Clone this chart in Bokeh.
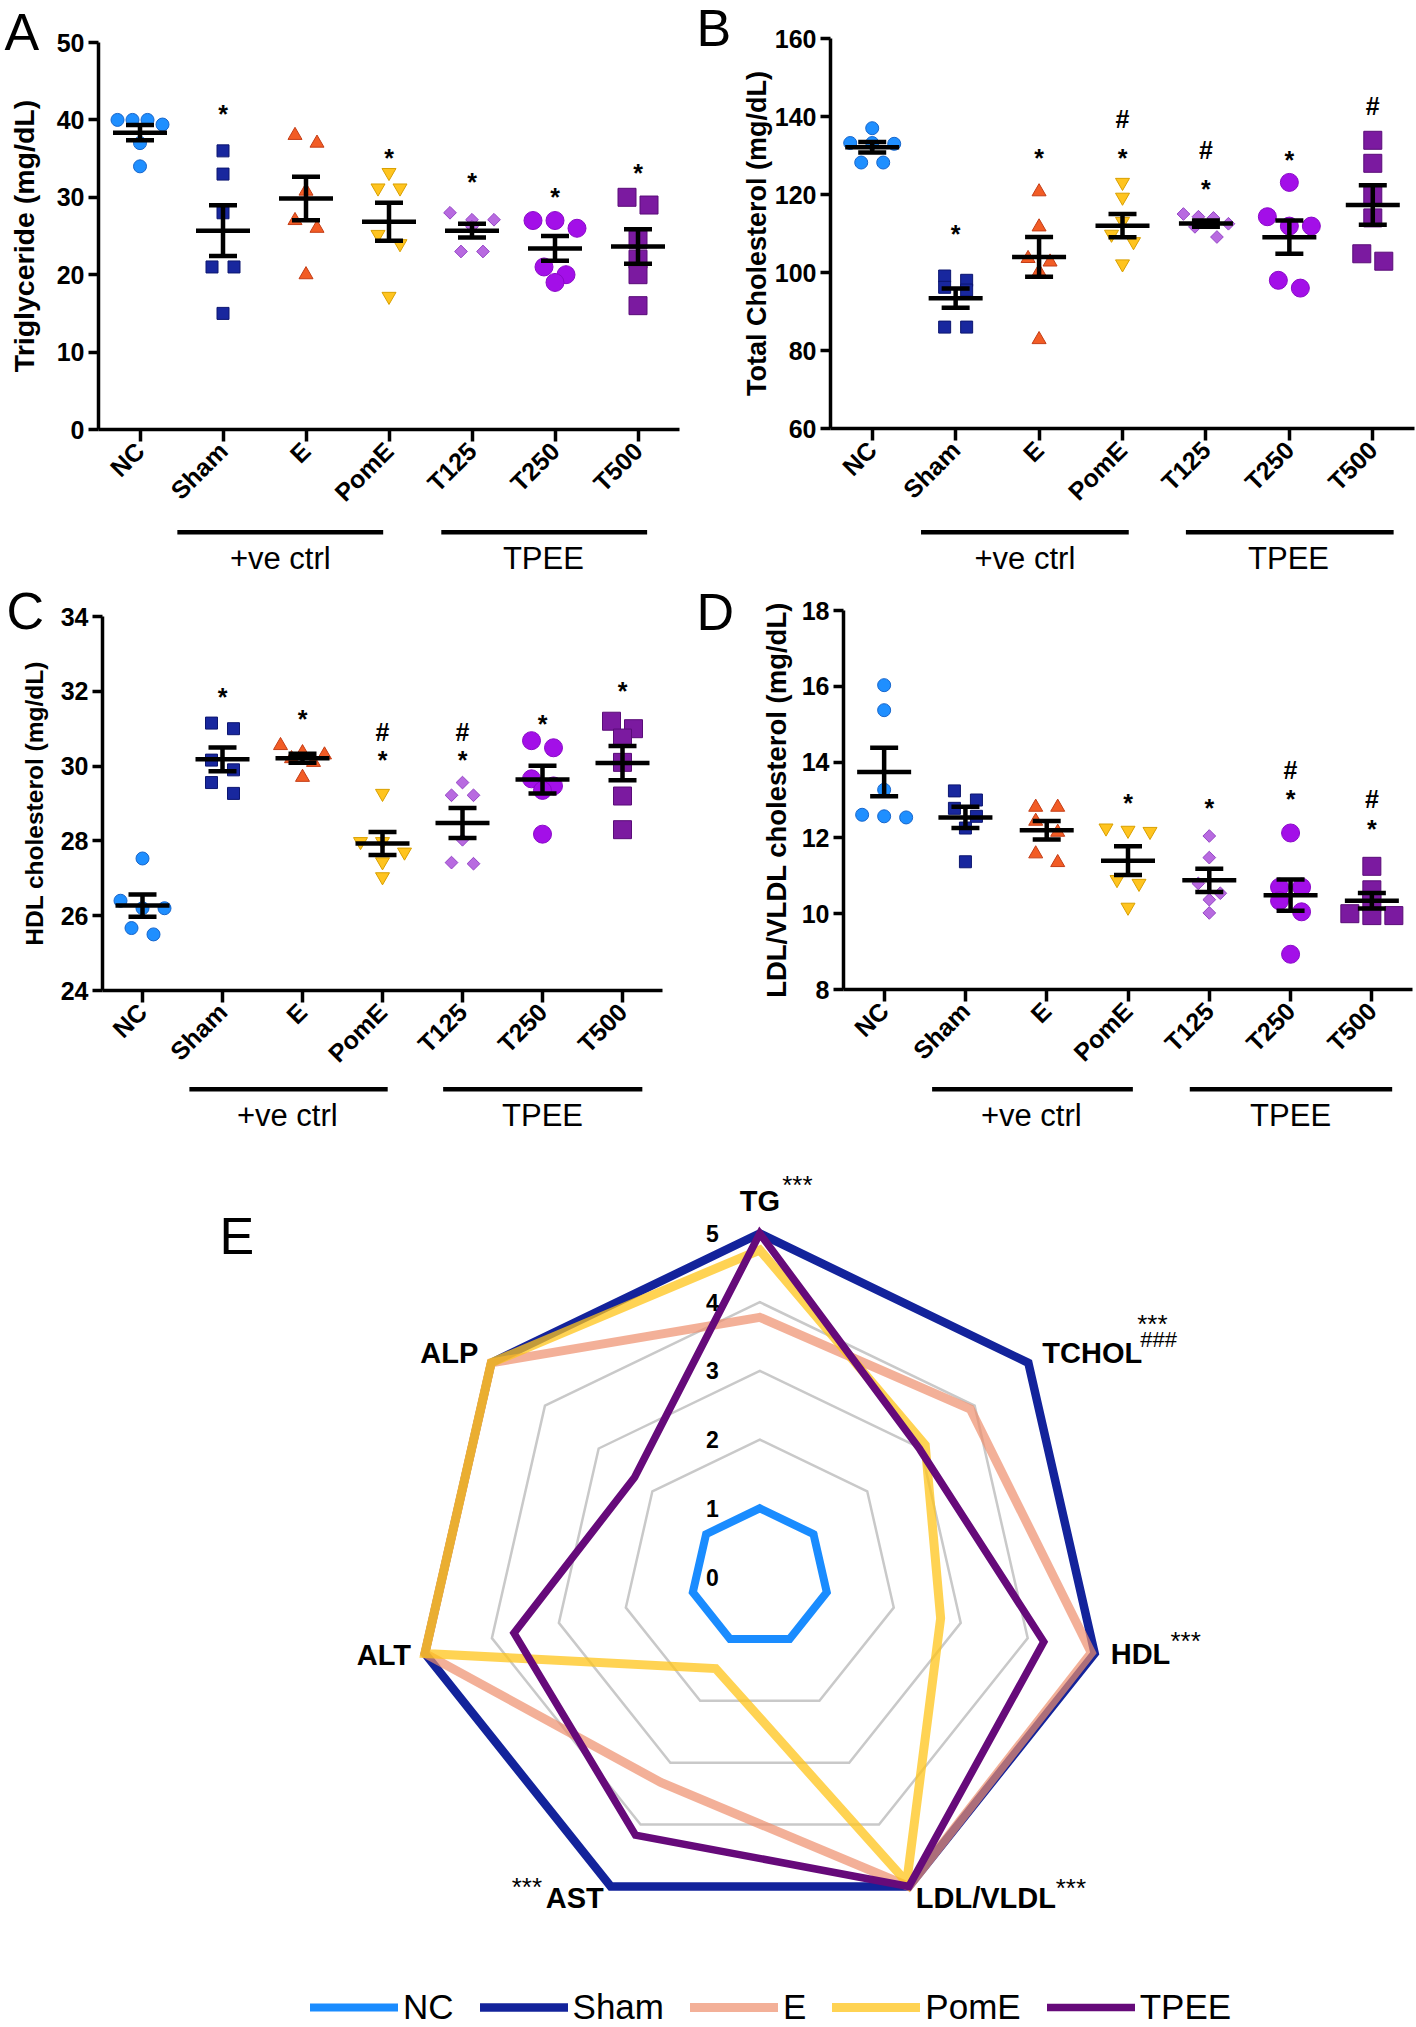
import numpy as np
from bokeh.plotting import figure
from bokeh.layouts import column, row
from bokeh.models import Range1d, FixedTicker, Legend, LegendItem, GridBox
from bokeh.core.properties import value
from bokeh.embed import file_html
from bokeh.resources import INLINE

FONT = "Liberation Sans"

groups = ["NC", "Sham", "E", "PomE", "T125", "T250", "T500"]
bar_labels = ["+ve ctrl", "TPEE"]
panel_letters = ["A", "B", "C", "D", "E"]

# ---------------- Panel A : Triglyceride (mg/dL)
tg_points = [
    [40.0, 40.0, 40.0, 39.4, 37.0, 34.0],
    [36.0, 33.0, 28.0, 21.0, 21.0, 15.0],
    [38.0, 37.0, 30.8, 27.0, 26.0, 20.0],
    [33.2, 31.2, 31.2, 25.2, 24.0, 17.2],
    [28.0, 27.1, 27.1, 26.2, 23.0, 23.0],
    [27.0, 27.0, 26.0, 21.0, 20.0, 19.0],
    [30.0, 29.0, 24.5, 22.0, 20.0, 16.0],
]
tg_mean = [38.35, 25.69, 29.85, 26.84, 25.69, 23.40, 23.64]
tg_sem = [0.98, 3.27, 2.82, 2.46, 0.88, 1.60, 2.22]
tg_star = [None, 41.5, None, 35.8, 32.7, 30.8, 33.9]
tg_hash = [None, None, None, None, None, None, None]
tg_ticks = [0, 10, 20, 30, 40, 50]

# ---------------- Panel B : Total Cholesterol (mg/dL)
tc_points = [
    [137.0, 133.2, 133.2, 133.0, 128.2, 128.2],
    [99.1, 98.0, 96.2, 95.5, 86.0, 86.0],
    [120.7, 111.7, 103.6, 102.7, 100.2, 82.8],
    [123.1, 119.3, 113.1, 109.8, 107.9, 102.2],
    [115.0, 114.3, 114.0, 112.5, 111.7, 109.1],
    [123.1, 114.3, 111.9, 111.9, 98.0, 96.0],
    [133.9, 128.0, 120.0, 114.0, 104.8, 102.9],
]
tc_mean = [132.1, 93.4, 104.0, 112.0, 112.56, 109.05, 117.3]
tc_sem = [1.33, 2.47, 5.12, 2.99, 0.80, 4.27, 5.08]
tc_star = [None, 111.4, 130.9, 130.9, 122.8, 130.4, None]
tc_hash = [None, None, None, 139.4, 131.3, None, 142.7]
tc_ticks = [60, 80, 100, 120, 140, 160]

# ---------------- Panel C : HDL cholesterol (mg/dL)
hdl_points = [
    [27.53, 26.4, 26.2, 26.2, 25.67, 25.5],
    [31.15, 31.0, 30.16, 29.9, 29.56, 29.27],
    [30.55, 30.36, 30.3, 30.2, 30.1, 29.7],
    [29.27, 27.98, 27.98, 27.7, 27.44, 27.04],
    [29.56, 29.22, 29.22, 28.03, 27.42, 27.39],
    [30.68, 30.49, 29.66, 29.47, 29.35, 28.18],
    [31.2, 31.0, 30.75, 30.1, 29.2, 28.3],
]
hdl_mean = [26.27, 30.18, 30.21, 27.93, 28.48, 29.64, 30.08]
hdl_sem = [0.30, 0.32, 0.12, 0.31, 0.40, 0.37, 0.46]
hdl_star = [None, 31.99, 31.4, 30.31, 30.31, 31.28, 32.17]
hdl_hash = [None, None, None, 30.9, 30.9, None, None]
hdl_ticks = [24, 26, 28, 30, 32, 34]

# ---------------- Panel D : LDL/VLDL cholesterol (mg/dL)
ldl_points = [
    [16.03, 15.37, 13.27, 12.61, 12.57, 12.54],
    [13.24, 13.0, 12.78, 12.57, 12.26, 11.37],
    [12.81, 12.81, 12.44, 12.15, 11.58, 11.35],
    [12.26, 12.2, 12.17, 10.9, 10.8, 10.17],
    [12.05, 11.48, 10.8, 10.54, 10.37, 10.02],
    [12.13, 10.7, 10.7, 10.34, 10.05, 8.93],
    [11.25, 10.63, 10.3, 10.0, 9.95, 9.95],
]
ldl_mean = [13.74, 12.54, 12.20, 11.40, 10.88, 10.49, 10.34]
ldl_sem = [0.64, 0.28, 0.245, 0.38, 0.305, 0.415, 0.205]
ldl_star = [None, None, None, 13.07, 12.93, 13.17, 12.39]
ldl_hash = [None, None, None, None, None, 13.8, 13.02]
ldl_ticks = [8, 10, 12, 14, 16, 18]

# ---------------- Panel E : radar
radar_axes = ["TG", "TCHOL", "HDL", "LDL/VLDL", "AST", "ALT", "ALP"]
radar_levels = [0, 1, 2, 3, 4, 5]
radar_names = ["NC", "Sham", "E", "PomE", "TPEE"]
radar_NC = [1, 1, 1, 1, 1, 1, 1]
radar_Sham = [5, 5, 5, 5, 5, 5, 5]
radar_E = [3.78, 3.92, 4.95, 5.0, 3.32, 5.0, 5.0]
radar_PomE = [4.76, 3.08, 2.70, 4.93, 1.48, 5.0, 5.0]
radar_TPEE = [5.0, 2.98, 4.24, 5.0, 4.17, 3.67, 2.33]

# ---------------- styles
STY = [
    dict(marker="circle", size=13, fill="#1f8fff", line="#1766cc", angle=0.0),
    dict(marker="square", size=12, fill="#18279e", line="#0c1670", angle=0.0),
    dict(marker="triangle", size=14, fill="#f25c25", line="#c43d16", angle=0.0),
    dict(marker="inverted_triangle", size=14, fill="#ffc41f", line="#d9a000", angle=0.0),
    dict(marker="square", size=9, fill="#b86ae0", line="#9445c6", angle=np.pi / 4),
    dict(marker="circle", size=18, fill="#a30fe8", line="#8a08c8", angle=0.0),
    dict(marker="square", size=18, fill="#7b1aa0", line="#5a0c78", angle=0.0),
]


def swarm(vals, ppu, cat_px, thresh=11.0):
    order = sorted(range(len(vals)), key=lambda i: -vals[i])
    rows = []
    for i in order:
        if rows and (vals[rows[-1][0]] - vals[i]) * ppu < thresh:
            rows[-1].append(i)
        else:
            rows.append([i])
    off = [0.0] * len(vals)
    for r in rows:
        n = len(r)
        step = 22.0 if n < 2 else min(22.0, 45.0 / (n - 1))
        for k, i in enumerate(r):
            off[i] = (k - (n - 1) / 2.0) * step / cat_px
    return off


def make_panel(pts, mean, sem, star, hsh, yr, ticks, ylabel, g):
    W, H = g["W"], g["H"]
    fw = W - g["bl"] - g["br"]
    fh = H - g["bt"] - g["bb"]
    p = figure(width=W, height=H, x_range=Range1d(-0.5, 6.5), y_range=Range1d(yr[0], yr[1]),
               min_border_left=g["bl"], min_border_right=g["br"],
               min_border_top=g["bt"], min_border_bottom=g["bb"],
               toolbar_location=None, output_backend="svg", title=None)
    p.grid.visible = False
    p.outline_line_color = None
    xa = p.xaxis[0]
    ya = p.yaxis[0]
    xa.ticker = FixedTicker(ticks=list(range(7)))
    xa.major_label_overrides = {i: n for i, n in enumerate(groups)}
    xa.major_label_orientation = np.pi / 4
    xa.major_tick_out = 12
    xa.major_tick_in = 0
    xa.minor_tick_line_color = None
    xa.major_label_standoff = 5
    ya.ticker = FixedTicker(ticks=ticks)
    ya.major_tick_out = 10
    ya.major_tick_in = 0
    ya.minor_tick_line_color = None
    ya.major_label_standoff = 4
    ya.axis_label = ylabel
    ya.axis_label_standoff = g["sd"]
    for ax in (xa, ya):
        ax.axis_line_width = 3.5
        ax.major_tick_line_width = 3.5
        ax.axis_line_color = "black"
        ax.major_tick_line_color = "black"
        ax.major_label_text_font = FONT
        ax.major_label_text_font_style = "bold"
        ax.major_label_text_font_size = "25px"
        ax.major_label_text_color = "black"
        ax.axis_label_text_font = FONT
        ax.axis_label_text_font_style = "bold"
        ax.axis_label_text_font_size = g["lfs"]
        ax.axis_label_text_color = "black"

    ppu = fh / float(yr[1] - yr[0])
    cat_px = fw / 7.0
    for i, vals in enumerate(pts):
        off = swarm(vals, ppu, cat_px)
        s = STY[i]
        p.scatter(x=[i + o for o in off], y=vals, marker=s["marker"], size=s["size"],
                  angle=s["angle"], fill_color=s["fill"], line_color=s["line"], line_width=1)

    idx = np.arange(7, dtype=float)
    mh = 27.0 / cat_px
    ch = 14.0 / cat_px
    m = np.array(mean, dtype=float)
    e = np.array(sem, dtype=float)
    kw = dict(line_color="black", line_width=4.5)
    p.segment(x0=idx - mh, y0=m, x1=idx + mh, y1=m, **kw)
    p.segment(x0=idx, y0=m - e, x1=idx, y1=m + e, **kw)
    p.segment(x0=idx - ch, y0=m + e, x1=idx + ch, y1=m + e, **kw)
    p.segment(x0=idx - ch, y0=m - e, x1=idx + ch, y1=m - e, **kw)

    # star sits high in its em box -> push it down a little so its centre lands on y
    for marks, sym, dy in ((star, "*", 5.7), (hsh, "#", 0.0)):
        xs = [i for i, v in enumerate(marks) if v is not None]
        ys = [v for v in marks if v is not None]
        if xs:
            p.text(x=xs, y=ys, text=[sym] * len(xs), text_align="center",
                   text_baseline="middle", y_offset=dy, text_font=value(FONT),
                   text_font_style="bold", text_font_size=value("25px"), text_color="black")

    s = figure(width=W, height=g["Hs"], x_range=p.x_range, y_range=Range1d(g["Hs"], 0),
               min_border_left=g["bl"], min_border_right=g["br"],
               min_border_top=0, min_border_bottom=0,
               x_axis_type=None, y_axis_type=None, toolbar_location=None,
               output_backend="svg", title=None)
    s.outline_line_color = None
    s.segment(x0=g["b0"], y0=[g["by"]] * 2, x1=g["b1"], y1=[g["by"]] * 2,
              line_color="black", line_width=4.5)
    s.text(x=g["tx"], y=[g["ty"]] * 2, text=bar_labels, text_align="center",
           text_baseline="middle", text_font=value(FONT),
           text_font_size=value("31px"), text_color="black")
    return column(p, s)


geoA = dict(W=693, H=522, bl=98, br=14, bt=42, bb=93, sd=14, Hs=58, lfs="28.5px",
            b0=[0.45, 3.63], b1=[2.93, 6.11], tx=[1.69, 4.86], by=9.7, ty=35.5)
geoB = dict(W=723, H=522, bl=137, br=2, bt=38, bb=94, sd=0, Hs=58, lfs="27px",
            b0=[0.585, 3.76], b1=[3.075, 6.25], tx=[1.83, 4.99], by=9.7, ty=35.5)
geoC = dict(W=693, H=500, bl=102, br=31, bt=36, bb=90, sd=10, Hs=62, lfs="24.5px",
            b0=[0.586, 3.758], b1=[3.065, 6.248], tx=[1.81, 5.0], by=8.8, ty=35.0)
geoD = dict(W=723, H=500, bl=150, br=4, bt=30, bb=91, sd=7, Hs=62, lfs="27.5px",
            b0=[0.59, 3.76], b1=[3.06, 6.25], tx=[1.81, 5.0], by=8.8, ty=35.0)

pA = make_panel(tg_points, tg_mean, tg_sem, tg_star, tg_hash, (0, 50), tg_ticks,
                "Triglyceride (mg/dL)", geoA)
pB = make_panel(tc_points, tc_mean, tc_sem, tc_star, tc_hash, (60, 160), tc_ticks,
                "Total Cholesterol (mg/dL)", geoB)
pC = make_panel(hdl_points, hdl_mean, hdl_sem, hdl_star, hdl_hash, (24, 34), hdl_ticks,
                "HDL cholesterol (mg/dL)", geoC)
pD = make_panel(ldl_points, ldl_mean, ldl_sem, ldl_star, ldl_hash, (8, 18), ldl_ticks,
                "LDL/VLDL cholesterol (mg/dL)", geoD)

# ---------------- radar figure
CX, CY, UNIT = 759.3, 1576.5, 68.7
EX0, EY0, EW, EH = 0, 1142, 1416, 885
pe = figure(width=EW, height=EH,
            x_range=Range1d((EX0 - CX) / UNIT, (EX0 + EW - CX) / UNIT),
            y_range=Range1d((CY - (EY0 + EH)) / UNIT, (CY - EY0) / UNIT),
            min_border_left=0, min_border_right=0, min_border_top=0, min_border_bottom=0,
            x_axis_type=None, y_axis_type=None, toolbar_location=None,
            output_backend="svg", title=None)
pe.outline_line_color = None

ang = np.deg2rad(90.0 - 360.0 / 7.0 * np.arange(7))


def ring(vals):
    v = np.asarray(vals, dtype=float)
    x = v * np.cos(ang)
    y = v * np.sin(ang)
    return np.r_[x, x[:2]], np.r_[y, y[:2]]


for lvl in radar_levels[1:]:
    gx, gy = ring([lvl] * 7)
    pe.line(gx, gy, line_color="#c9c9c9", line_width=2.5, line_join="miter")

SER = [
    (radar_NC, "#1a8cff", 1.0, 8.0),
    (radar_Sham, "#13239b", 1.0, 8.5),
    (radar_E, "#ee8e6c", 0.7, 9.0),
    (radar_PomE, "#ffc41a", 0.75, 9.0),
    (radar_TPEE, "#660a7a", 1.0, 7.5),
]
rends = []
for vals, col, alpha, lw in SER:
    rx, ry = ring(vals)
    r = pe.line(rx, ry, line_color=col, line_alpha=alpha, line_width=lw,
                line_join="miter", line_cap="round")
    rends.append(r)

RMAX = radar_levels[-1]
vx = RMAX * np.cos(ang)
vy = RMAX * np.sin(ang)
lab_align = ["center", "left", "left", "left", "right", "right", "right"]
lab_dx = [0, 14, 16, 7, -7, -14, -13]
lab_dy = [-33, -10, 1, 11.4, 11.4, 2, -10]
for k, name in enumerate(radar_axes):
    pe.text(x=[vx[k]], y=[vy[k]], text=[name], text_align=lab_align[k],
            text_baseline="middle", x_offset=lab_dx[k], y_offset=lab_dy[k],
            text_font=value(FONT), text_font_style="bold", text_font_size=value("29px"),
            text_color="black")

sups = [(0, "***", 26, 22.4, -49.0, "left"),
        (1, "***", 26, 108.8, -38.4, "left"),
        (1, "###", 22, 112.0, -23.4, "left"),
        (2, "***", 26, 75.8, -12.9, "left"),
        (3, "***", 26, 146.8, 1.9, "left"),
        (4, "***", 26, -68.7, 0.9, "right")]
for k, t, fs, dx, dy, al in sups:
    pe.text(x=[vx[k]], y=[vy[k]], text=[t], text_align=al, text_baseline="middle",
            x_offset=dx, y_offset=dy, text_font=value(FONT),
            text_font_size=value("%dpx" % fs), text_color="black")

pe.text(x=[0.0] * len(radar_levels), y=[float(l) for l in radar_levels],
        text=[str(l) for l in radar_levels], text_align="right", text_baseline="middle",
        x_offset=-41, y_offset=0, text_font=value(FONT), text_font_style="bold",
        text_font_size=value("23px"), text_color="black")

legend = Legend(items=[LegendItem(label=n, renderers=[r]) for n, r in zip(radar_names, rends)],
                orientation="horizontal", location=(310, 0), glyph_width=88, glyph_height=20,
                label_standoff=5, spacing=26, padding=0, margin=0,
                border_line_color=None, background_fill_alpha=0,
                label_text_font=FONT, label_text_font_size="35px", label_text_color="black")
pe.add_layout(legend)

# ---------------- transparent overlay carrying the panel letters (page pixel space)
ov = figure(width=1416, height=2027, x_range=Range1d(0, 1416), y_range=Range1d(2027, 0),
            min_border_left=0, min_border_right=0, min_border_top=0, min_border_bottom=0,
            x_axis_type=None, y_axis_type=None, toolbar_location=None,
            output_backend="svg", title=None)
ov.outline_line_color = None
ov.background_fill_alpha = 0
ov.border_fill_alpha = 0
letter_x = [4, 696, 6, 696, 219]
letter_y = [31, 27.5, 610.5, 611, 1235]
ov.text(x=letter_x, y=letter_y, text=panel_letters, text_align="left",
        text_baseline="middle", text_font=value(FONT), text_font_size=value("52px"),
        text_color="black")

main = column(row(pA, pB), row(pC, pD), pe)
page = GridBox(children=[(main, 0, 0), (ov, 0, 0)])
open("out.html", "w").write(file_html(page, INLINE))
